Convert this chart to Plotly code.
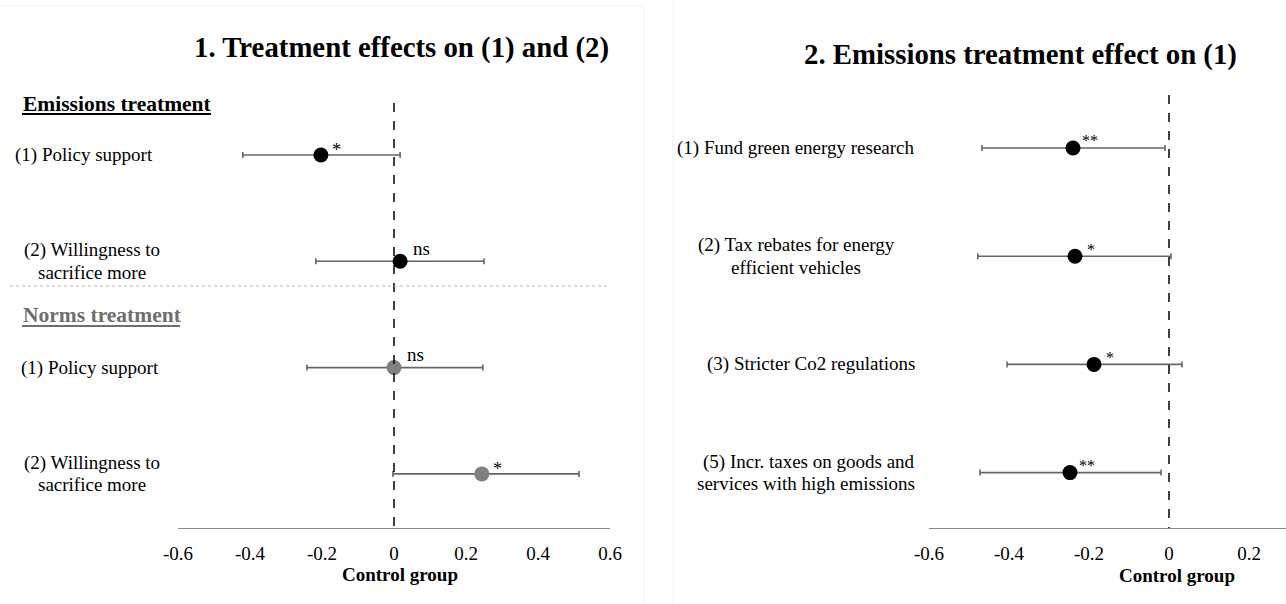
import plotly.graph_objects as go

W, H = 1286, 604
FONT = "Liberation Serif"

# ---- Panel 1 data ----
p1_labels = ["(1) Policy support", "(2) Willingness to<br>sacrifice more",
             "(1) Policy support", "(2) Willingness to<br>sacrifice more"]
p1_groups = ["Emissions", "Emissions", "Norms", "Norms"]
p1_est = [-0.203, 0.017, 0.0, 0.244]
p1_lo = [-0.42, -0.217, -0.242, -0.003]
p1_hi = [0.017, 0.25, 0.247, 0.514]
p1_sig = ["*", "ns", "ns", "*"]
p1_ticks = [-0.6, -0.4, -0.2, 0, 0.2, 0.4, 0.6]

# ---- Panel 2 data ----
p2_labels = ["(1) Fund green energy research",
             "(2) Tax rebates for energy<br>efficient vehicles",
             "(3) Stricter Co2 regulations",
             "(5) Incr. taxes on goods and<br>services with high emissions"]
p2_est = [-0.24, -0.235, -0.1875, -0.2475]
p2_lo = [-0.4675, -0.478, -0.405, -0.4725]
p2_hi = [-0.01, 0.005, 0.0325, -0.02]
p2_sig = ["**", "*", "*", "**"]
p2_ticks = [-0.6, -0.4, -0.2, 0, 0.2]

def px(x):
    return x / W

def py(y):
    return 1 - y / H

fig = go.Figure()

ERR = "#666666"
colors1 = ["#000000" if g == "Emissions" else "#808080" for g in p1_groups]
idx1 = list(range(len(p1_est)))
fig.add_trace(go.Scatter(
    x=p1_est, y=idx1, mode="markers", xaxis="x", yaxis="y",
    marker=dict(size=15, color=colors1),
    error_x=dict(type="data", symmetric=False,
                 array=[h - e for h, e in zip(p1_hi, p1_est)],
                 arrayminus=[e - l for e, l in zip(p1_est, p1_lo)],
                 color=ERR, thickness=1.6, width=3),
    showlegend=False, cliponaxis=False))

idx2 = list(range(len(p2_est)))
fig.add_trace(go.Scatter(
    x=p2_est, y=idx2, mode="markers", xaxis="x2", yaxis="y2",
    marker=dict(size=15, color="#000000"),
    error_x=dict(type="data", symmetric=False,
                 array=[h - e for h, e in zip(p2_hi, p2_est)],
                 arrayminus=[e - l for e, l in zip(p2_est, p2_lo)],
                 color=ERR, thickness=1.6, width=3),
    showlegend=False, cliponaxis=False))

ann = []
# significance labels
for i, (e, s) in enumerate(zip(p1_est, p1_sig)):
    star = s != "ns"
    ann.append(dict(x=e, y=i, xref="x", yref="y", text=s, showarrow=False,
                    xanchor="left", yanchor="middle",
                    xshift=9 if star else 11,
                    yshift=5 if star else 13,
                    font=dict(family=FONT, size=18 if star else 19, color="black")))
for i, (e, s) in enumerate(zip(p2_est, p2_sig)):
    ann.append(dict(x=e, y=i, xref="x2", yref="y2", text=s, showarrow=False,
                    xanchor="left", yanchor="middle",
                    xshift=7 if s == "**" else 10, yshift=7,
                    font=dict(family=FONT, size=16, color="black")))

LINE = 22  # line spacing of multi-line labels (px)

def add_label(text, x, y, yref, xanchor, align):
    lines = text.split("<br>")
    n = len(lines)
    for k, ln in enumerate(lines):
        ann.append(dict(x=x, y=y, xref="paper", yref=yref, text=ln, showarrow=False,
                        xanchor=xanchor, yanchor="middle", align=align,
                        yshift=((n - 1) / 2 - k) * LINE,
                        font=dict(family=FONT, size=19, color="black")))

# category labels panel 1
p1_lx = [px(13), px(92), px(19), px(92)]
p1_anchor = ["left", "center", "left", "center"]
for i, lab in enumerate(p1_labels):
    add_label(lab, p1_lx[i], i, "y", p1_anchor[i], "center")
# category labels panel 2
p2_lx = [px(917), px(796), px(917), px(917)]
p2_anchor = ["right", "center", "right", "right"]
for i, lab in enumerate(p2_labels):
    add_label(lab, p2_lx[i], i, "y2", p2_anchor[i], "right")

# group headers
ann.append(dict(x=px(21), y=py(104), xref="paper", yref="paper",
                text="<b>Emissions treatment</b>", showarrow=False,
                xanchor="left", yanchor="middle",
                font=dict(family=FONT, size=21.5, color="black")))
ann.append(dict(x=px(21), y=py(315), xref="paper", yref="paper",
                text="<b>Norms treatment</b>", showarrow=False,
                xanchor="left", yanchor="middle",
                font=dict(family=FONT, size=21.5, color="#6e6e6e")))

# titles
ann.append(dict(x=px(401), y=py(48), xref="paper", yref="paper",
                text="<b>1. Treatment effects on (1) and (2)</b>", showarrow=False,
                xanchor="center", yanchor="middle",
                font=dict(family=FONT, size=28.8, color="black")))
ann.append(dict(x=px(1020), y=py(55), xref="paper", yref="paper",
                text="<b>2. Emissions treatment effect on (1)</b>", showarrow=False,
                xanchor="center", yanchor="middle",
                font=dict(family=FONT, size=28.8, color="black")))

# axis titles
ann.append(dict(x=px(400), y=py(574), xref="paper", yref="paper",
                text="<b>Control group</b>", showarrow=False,
                xanchor="center", yanchor="middle",
                font=dict(family=FONT, size=19, color="black")))
ann.append(dict(x=px(1177), y=py(575), xref="paper", yref="paper",
                text="<b>Control group</b>", showarrow=False,
                xanchor="center", yanchor="middle",
                font=dict(family=FONT, size=19, color="black")))

shapes = [
    # dashed zero lines
    dict(type="line", xref="x", yref="y", x0=0, x1=0, y0=-0.49, y1=3.509,
         line=dict(color="black", width=1.5, dash="dash")),
    dict(type="line", xref="x2", yref="y2", x0=0, x1=0, y0=-0.49, y1=3.512,
         line=dict(color="black", width=1.5, dash="dash")),
    # dotted separator
    dict(type="line", xref="paper", yref="paper", x0=px(10), x1=px(610),
         y0=py(286), y1=py(286), line=dict(color="#bbbbbb", width=1, dash="dot")),
    # header underlines
    dict(type="line", xref="paper", yref="paper", x0=px(22), x1=px(211),
         y0=py(114), y1=py(114), line=dict(color="black", width=2)),
    dict(type="line", xref="paper", yref="paper", x0=px(22), x1=px(180),
         y0=py(326), y1=py(326), line=dict(color="#6e6e6e", width=2)),
    # faint panel borders
    dict(type="line", xref="paper", yref="paper", x0=0, x1=px(644),
         y0=py(6), y1=py(6), line=dict(color="#f0f0f0", width=1)),
    dict(type="line", xref="paper", yref="paper", x0=px(644), x1=px(644),
         y0=py(6), y1=0, line=dict(color="#f0f0f0", width=1)),
    dict(type="line", xref="paper", yref="paper", x0=px(673), x1=px(673),
         y0=1, y1=0, line=dict(color="#f0f0f0", width=1)),
]

ydom = [py(528), py(20)]
axis_common = dict(showgrid=False, zeroline=False, showline=True,
                   linecolor="#8a8a8a", linewidth=1.2, ticks="",
                   tickfont=dict(family=FONT, size=19, color="black"),
                   ticklabelstandoff=8)

fig.update_layout(
    width=W, height=H,
    margin=dict(l=0, r=0, t=0, b=0, pad=0, autoexpand=False),
    paper_bgcolor="white", plot_bgcolor="white",
    xaxis=dict(domain=[px(178), px(610)], range=[-0.6, 0.6],
               tickvals=p1_ticks, ticktext=[f"{t:g}" for t in p1_ticks],
               anchor="y", **axis_common),
    yaxis=dict(domain=ydom, range=[3.509, -1.27], visible=False, anchor="x"),
    xaxis2=dict(domain=[px(929), 1.0], range=[-0.6, 0.2925],
                tickvals=p2_ticks, ticktext=[f"{t:g}" for t in p2_ticks],
                anchor="y2", **axis_common),
    yaxis2=dict(domain=ydom, range=[3.512, -1.183], visible=False, anchor="x2"),
    annotations=ann, shapes=shapes,
)

fig.write_html("out.html")
